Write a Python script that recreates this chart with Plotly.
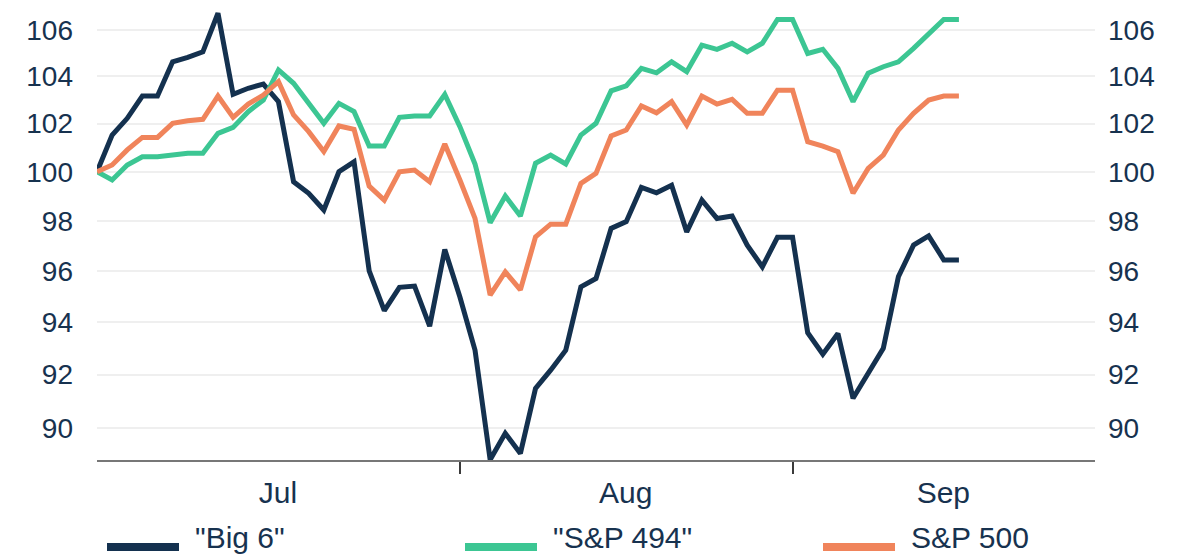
import math
import plotly.graph_objects as go

dates = [
    "2024-06-28",
    "2024-07-01", "2024-07-02", "2024-07-03", "2024-07-04", "2024-07-05",
    "2024-07-08", "2024-07-09", "2024-07-10", "2024-07-11", "2024-07-12",
    "2024-07-15", "2024-07-16", "2024-07-17", "2024-07-18", "2024-07-19",
    "2024-07-22", "2024-07-23", "2024-07-24", "2024-07-25", "2024-07-26",
    "2024-07-29", "2024-07-30", "2024-07-31", "2024-08-01", "2024-08-02",
    "2024-08-05", "2024-08-06", "2024-08-07", "2024-08-08", "2024-08-09",
    "2024-08-12", "2024-08-13", "2024-08-14", "2024-08-15", "2024-08-16",
    "2024-08-19", "2024-08-20", "2024-08-21", "2024-08-22", "2024-08-23",
    "2024-08-26", "2024-08-27", "2024-08-28", "2024-08-29", "2024-08-30",
    "2024-09-02", "2024-09-03", "2024-09-04", "2024-09-05", "2024-09-06",
    "2024-09-09", "2024-09-10", "2024-09-11", "2024-09-12", "2024-09-13",
    "2024-09-16", "2024-09-17",
]

big6 = [
    100.00, 101.52, 102.22, 103.16, 103.16, 104.62, 104.81, 105.05, 106.73, 103.23,
    103.49, 103.67, 102.92, 99.59, 99.12, 98.44, 100.00, 100.41, 96.01, 94.45,
    95.36, 95.41, 93.85, 96.86, 94.98, 92.93, 88.84, 89.81, 89.07, 91.48,
    92.17, 92.93, 95.38, 95.71, 97.70, 97.97, 99.36, 99.14, 99.45, 97.56,
    98.84, 98.10, 98.20, 97.03, 96.17, 97.34, 97.34, 93.60, 92.78, 93.57,
    91.11, 92.06, 93.00, 95.78, 97.03, 97.40, 96.44, 96.44,
]

sp494 = [
    100.00, 99.66, 100.28, 100.62, 100.62, 100.69, 100.76, 100.76, 101.59, 101.84,
    102.50, 102.99, 104.27, 103.70, 102.85, 102.01, 102.85, 102.50, 101.06, 101.06,
    102.26, 102.32, 102.32, 103.23, 101.87, 100.32, 97.93, 99.01, 98.20, 100.35,
    100.69, 100.32, 101.52, 102.01, 103.38, 103.59, 104.34, 104.15, 104.62, 104.20,
    105.34, 105.16, 105.42, 105.05, 105.42, 106.46, 106.46, 104.98, 105.16, 104.34,
    102.92, 104.13, 104.41, 104.62, 105.20, 105.85, 106.46, 106.46,
]

sp500 = [
    100.00, 100.28, 100.90, 101.42, 101.42, 102.01, 102.12, 102.18, 103.16, 102.26,
    102.82, 103.20, 103.77, 102.36, 101.66, 100.83, 101.90, 101.76, 99.41, 98.84,
    100.00, 100.07, 99.59, 101.15, 99.66, 98.10, 95.06, 95.97, 95.26, 97.36,
    97.87, 97.87, 99.52, 99.93, 101.48, 101.73, 102.74, 102.45, 102.92, 101.94,
    103.16, 102.82, 103.02, 102.43, 102.43, 103.41, 103.41, 101.24, 101.06, 100.83,
    99.12, 100.14, 100.69, 101.73, 102.43, 102.99, 103.16, 103.16,
]

series_names = ['"Big 6"', '"S&P 494"', "S&P 500"]
series_values = [big6, sp494, sp500]
series_colors = ["#14314f", "#3cc693", "#f0845b"]
series_axes = ["y", "y", "y2"]   # y2 is the same scale, labelled on the right

y_ticks = [90, 92, 94, 96, 98, 100, 102, 104, 106]
y_min, y_max = 88.83, 106.96
x_start, x_end = "2024-06-28", "2024-09-30"

# ---- layout constants (pixels) ----
PAGE_OFFSET = 8                 # default page margin around the figure
W, H = 1178, 549
ML, MR, MT, MB = 89, 91, 0, 97
PW, PH = W - ML - MR, H - MT - MB
TEXT = "#17324f"
FONT = "Arial, Liberation Sans, sans-serif"


def px_x(sx):
    return (sx - PAGE_OFFSET - ML) / PW


def px_y(sy):
    return (H - MB - (sy - PAGE_OFFSET)) / PH


fig = go.Figure()
for name, vals, col, ax in zip(series_names, series_values, series_colors, series_axes):
    fig.add_trace(go.Scatter(
        x=dates, y=vals, name=name, mode="lines", yaxis=ax,
        line=dict(color=col, width=5),
        showlegend=False,
    ))

yax = dict(
    type="log",
    range=[math.log10(y_min), math.log10(y_max)],
    tickmode="array", tickvals=y_ticks, ticktext=[str(v) for v in y_ticks],
    tickfont=dict(family=FONT, size=28, color=TEXT),
    zeroline=False, showline=False, ticks="", automargin=False,
)

fig.update_layout(
    width=W, height=H,
    margin=dict(l=ML, r=MR, t=MT, b=MB, autoexpand=False),
    paper_bgcolor="white", plot_bgcolor="white",
    font=dict(family=FONT, color=TEXT),
    showlegend=False,
    xaxis=dict(
        type="date",
        range=[x_start, x_end],
        rangebreaks=[dict(bounds=["sat", "mon"])],
        dtick="M1", tick0="2024-07-01", tickformat="%b",
        ticklabelmode="period", ticklabelshift=-8, ticklabelstandoff=-7,
        ticks="outside", ticklen=12, tickwidth=2, tickcolor="#3a3a3a",
        showline=True, linecolor="#777777", linewidth=2,
        showgrid=False, zeroline=False, automargin=False,
        tickfont=dict(family=FONT, size=30, color=TEXT),
    ),
    yaxis=dict(**yax, side="left", showgrid=True, gridcolor="#efefef",
               gridwidth=2, ticklabelstandoff=23),
    yaxis2=dict(**yax, side="right", overlaying="y", matches="y",
                showgrid=False, ticklabelstandoff=12),
)

# ---- legend (below the axis, one entry per series) ----
legend_first_px, legend_step_px = 107, 358
legend_line_px, legend_text_px = 547, 537
sample_len_px, text_gap_px = 72, 14
for i, (name, col) in enumerate(zip(series_names, series_colors)):
    x0 = legend_first_px + i * legend_step_px
    fig.add_shape(
        type="line", xref="paper", yref="paper",
        x0=px_x(x0), x1=px_x(x0 + sample_len_px),
        y0=px_y(legend_line_px), y1=px_y(legend_line_px),
        line=dict(color=col, width=8),
    )
    fig.add_annotation(
        text=name, xref="paper", yref="paper",
        x=px_x(x0 + sample_len_px + text_gap_px), y=px_y(legend_text_px),
        xanchor="left", yanchor="middle", showarrow=False,
        font=dict(family=FONT, size=30, color=TEXT),
    )

fig.write_html("out.html")
